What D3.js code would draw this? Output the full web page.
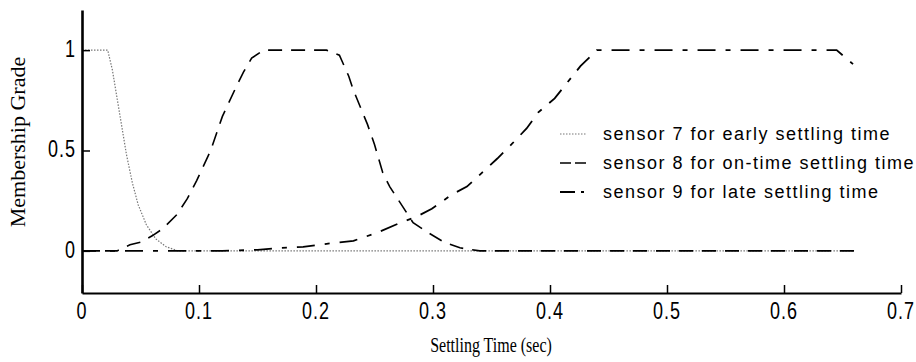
<!DOCTYPE html>
<html>
<head>
<meta charset="utf-8">
<script src="https://cdn.jsdelivr.net/npm/d3@7"></script>
<style>
  html, body { margin: 0; padding: 0; background: #fff; }
  svg { display: block; }
</style>
</head>
<body>
<svg id="chart" width="916" height="362"></svg>
<script>
// ---------- data ----------
const xTicks = [0, 0.1, 0.2, 0.3, 0.4, 0.5, 0.6, 0.7];
const xTickLabels = ["0", "0.1", "0.2", "0.3", "0.4", "0.5", "0.6", "0.7"];
const yTicks = [0, 0.5, 1];
const yTickLabels = ["0", "0.5", "1"];

const sensor7Time  = [0, 0.022, 0.026, 0.030, 0.034, 0.038, 0.043, 0.048, 0.055, 0.063, 0.072, 0.082, 0.66];
const sensor7Grade = [1, 1,     0.90,  0.76,  0.62,  0.48,  0.34,  0.23,  0.13,  0.06,  0.02,  0,     0];

const sensor8Time  = [0, 0.030, 0.041, 0.051, 0.060, 0.069, 0.081, 0.090, 0.098, 0.110, 0.120, 0.132, 0.138, 0.145, 0.155,
                      0.209, 0.220, 0.228, 0.232, 0.244, 0.250, 0.257, 0.263, 0.283, 0.296, 0.309, 0.323, 0.340, 0.66];
const sensor8Grade = [0, 0,     0.03,  0.045, 0.075, 0.11,  0.18,  0.26,  0.35,  0.50,  0.67,  0.82,  0.89,  0.96,  1.0,
                      1.0,   0.975, 0.87,  0.80,  0.63,  0.53,  0.39,  0.32,  0.14,  0.09,  0.045, 0.015, 0,     0];

const sensor9Time  = [0, 0.120, 0.150, 0.170, 0.189, 0.209, 0.232, 0.252, 0.272, 0.286, 0.299, 0.316, 0.329, 0.342, 0.355,
                      0.367, 0.380, 0.390, 0.404, 0.415, 0.426, 0.440, 0.645, 0.659];
const sensor9Grade = [0, 0,     0.005, 0.015, 0.02,  0.035, 0.05,  0.09,  0.14,  0.17,  0.21,  0.28,  0.32,  0.39,  0.46,
                      0.53,  0.61,  0.69,  0.76,  0.84,  0.92,  1.0,   1.0,   0.93];

const seriesNames = ["sensor 7  for early settling time",
                     "sensor 8 for on-time settling time",
                     "sensor 9 for late settling time"];

const xTitle = "Settling Time (sec)";
const yTitle = "Membership Grade";

// ---------- layout / styles ----------
const svg = d3.select("#chart");
const x = d3.scaleLinear().domain([0, 0.7]).range([82, 901]);
const y = d3.scaleLinear().domain([-0.21, 1.2]).range([293, 10]);

const styles = [
  { stroke: "#777", width: 1.2, dash: "1.5,1.5" },
  { stroke: "#000", width: 1.6, dash: "14,9" },
  { stroke: "#000", width: 1.8, dash: "18,10,5,10" }
];

const series = [
  d3.zip(sensor7Time, sensor7Grade),
  d3.zip(sensor8Time, sensor8Grade),
  d3.zip(sensor9Time, sensor9Grade)
];

const line = d3.line().x(d => x(d[0])).y(d => y(d[1]));

// curves
series.forEach((s, i) => {
  svg.append("path")
    .datum(s)
    .attr("fill", "none")
    .attr("stroke", styles[i].stroke)
    .attr("stroke-width", styles[i].width)
    .attr("stroke-dasharray", styles[i].dash)
    .attr("d", line);
});

// axes
const xAxis = svg.append("g")
  .attr("transform", `translate(0,${y(-0.21)})`)
  .call(d3.axisBottom(x).tickValues(xTicks).tickSize(-8).tickSizeOuter(0).tickFormat(""));
xAxis.select(".domain").attr("stroke", "#000").attr("stroke-width", 2);
xAxis.selectAll(".tick line").attr("stroke", "#000").attr("stroke-width", 1.5);

const yAxis = svg.append("g")
  .attr("transform", `translate(${x(0)},0)`)
  .call(d3.axisLeft(y).tickValues(yTicks).tickSize(-8).tickSizeOuter(0).tickFormat(""));
yAxis.select(".domain").attr("stroke", "#000").attr("stroke-width", 2.6);
yAxis.selectAll(".tick line").attr("stroke", "#000").attr("stroke-width", 1.5);

// tick labels
svg.append("g").selectAll("text")
  .data(xTicks)
  .join("text")
  .attr("transform", d => `translate(${x(d)},${y(-0.21) + 26}) scale(1,1.3)`)
  .attr("text-anchor", "middle")
  .attr("font-family", "Liberation Sans, Arial, sans-serif")
  .attr("font-size", 18)
  .attr("letter-spacing", 1)
  .attr("fill", "#000")
  .text((d, i) => xTickLabels[i]);

svg.append("g").selectAll("text")
  .data(yTicks)
  .join("text")
  .attr("transform", d => `translate(76,${y(d) + 7}) scale(1,1.3)`)
  .attr("text-anchor", "end")
  .attr("font-family", "Liberation Sans, Arial, sans-serif")
  .attr("font-size", 18)
  .attr("letter-spacing", 1)
  .attr("fill", "#000")
  .text((d, i) => yTickLabels[i]);

// axis titles
svg.append("text")
  .attr("transform", `translate(491,352) scale(1,1.3)`)
  .attr("text-anchor", "middle")
  .attr("font-family", "Liberation Serif, Times New Roman, serif")
  .attr("font-size", 16)
  .attr("fill", "#000")
  .text(xTitle);

svg.append("text")
  .attr("transform", `translate(25,142) rotate(-90)`)
  .attr("text-anchor", "middle")
  .attr("font-family", "Liberation Serif, Times New Roman, serif")
  .attr("font-size", 22)
  .attr("fill", "#000")
  .text(yTitle);

// legend
const legendY = [134, 163, 192];
const legend = svg.append("g");
seriesNames.forEach((name, i) => {
  legend.append("line")
    .attr("x1", 560).attr("x2", 586)
    .attr("y1", legendY[i]).attr("y2", legendY[i])
    .attr("stroke", styles[i].stroke)
    .attr("stroke-width", styles[i].width)
    .attr("stroke-dasharray", i === 0 ? "1.5,1.5" : (i === 1 ? "11,4" : "15,6,3,20"));
  legend.append("text")
    .attr("x", 603)
    .attr("y", legendY[i] + 6)
    .attr("font-family", "Liberation Sans, Arial, sans-serif")
    .attr("font-size", 18)
    .attr("letter-spacing", 1.5)
    .attr("fill", "#000")
    .text(name);
});
</script>
</body>
</html>
